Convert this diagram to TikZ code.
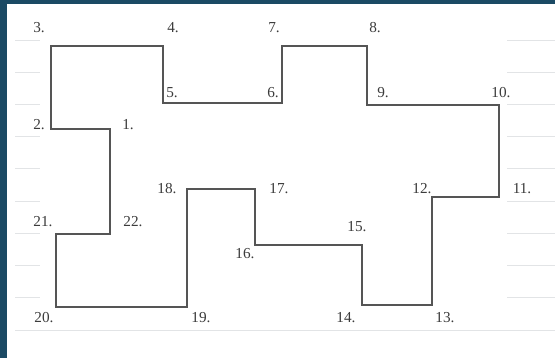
\documentclass[tikz,border=0pt]{standalone}
\usepackage{fontspec}
\setmainfont{Liberation Serif}
\usepackage{xcolor}
\usepackage{tikz}
\definecolor{frame}{HTML}{1B4A64}
\definecolor{rule}{HTML}{E2E4E6}
\definecolor{edge}{HTML}{555555}
\definecolor{num}{HTML}{3C3C3C}

\begin{document}
\begin{tikzpicture}[
      x=0.03cm, y=-0.03cm,
      lbl/.style={text=num, inner sep=0pt, font=\fontsize{13}{14}\selectfont},
      side/.style={draw=edge, line width=1.3pt, line join=miter},
      ruled/.style={draw=rule, line width=0.8pt}
    ]
    \useasboundingbox (0,0) rectangle (555,358);
    \fill[white] (0,0) rectangle (555,358);
    \fill[frame] (0,0) rectangle (7,358);
    \fill[frame] (0,0) rectangle (555,4);

    \foreach \k in {0,...,8} {
      \draw[ruled] (15,{40+32.2*\k}) -- (40,{40+32.2*\k});
      \draw[ruled] (507,{40+32.2*\k}) -- (555,{40+32.2*\k});
    }
    \draw[ruled] (15,330) -- (555,330);

    \coordinate (v1) at (110,129);
    \coordinate (v2) at (51,129);
    \coordinate (v3) at (51,46);
    \coordinate (v4) at (163,46);
    \coordinate (v5) at (163,103);
    \coordinate (v6) at (282,103);
    \coordinate (v7) at (282,46);
    \coordinate (v8) at (367,46);
    \coordinate (v9) at (367,105);
    \coordinate (v10) at (499,105);
    \coordinate (v11) at (499,197);
    \coordinate (v12) at (432,197);
    \coordinate (v13) at (432,305);
    \coordinate (v14) at (362,305);
    \coordinate (v15) at (362,245);
    \coordinate (v16) at (255,245);
    \coordinate (v17) at (255,189);
    \coordinate (v18) at (187,189);
    \coordinate (v19) at (187,307);
    \coordinate (v20) at (56,307);
    \coordinate (v21) at (56,234);
    \coordinate (v22) at (110,234);

    \draw[side] (v1) -- (v2) -- (v3) -- (v4) -- (v5) -- (v6) -- (v7) -- (v8)
      -- (v9) -- (v10) -- (v11) -- (v12) -- (v13) -- (v14) -- (v15) -- (v16)
      -- (v17) -- (v18) -- (v19) -- (v20) -- (v21) -- (v22) -- cycle;

    \node[lbl] (n3) at (39,28) {3.};
    \node[lbl] (n4) at (173,28) {4.};
    \node[lbl] (n7) at (274,28) {7.};
    \node[lbl] (n8) at (375,28) {8.};
    \node[lbl] (n5) at (172,93) {5.};
    \node[lbl] (n6) at (273,93) {6.};
    \node[lbl] (n9) at (383,93) {9.};
    \node[lbl] (n10) at (501,93) {10.};
    \node[lbl] (n2) at (39,125) {2.};
    \node[lbl] (n1) at (128,125) {1.};
    \node[lbl] (n18) at (167,189) {18.};
    \node[lbl] (n17) at (279,189) {17.};
    \node[lbl] (n12) at (422,189) {12.};
    \node[lbl] (n11) at (522,189) {11.};
    \node[lbl] (n21) at (43,222) {21.};
    \node[lbl] (n22) at (133,222) {22.};
    \node[lbl] (n15) at (357,227) {15.};
    \node[lbl] (n16) at (245,254) {16.};
    \node[lbl] (n20) at (44,318) {20.};
    \node[lbl] (n19) at (201,318) {19.};
    \node[lbl] (n14) at (346,318) {14.};
    \node[lbl] (n13) at (445,318) {13.};
  \end{tikzpicture}
\end{document}
